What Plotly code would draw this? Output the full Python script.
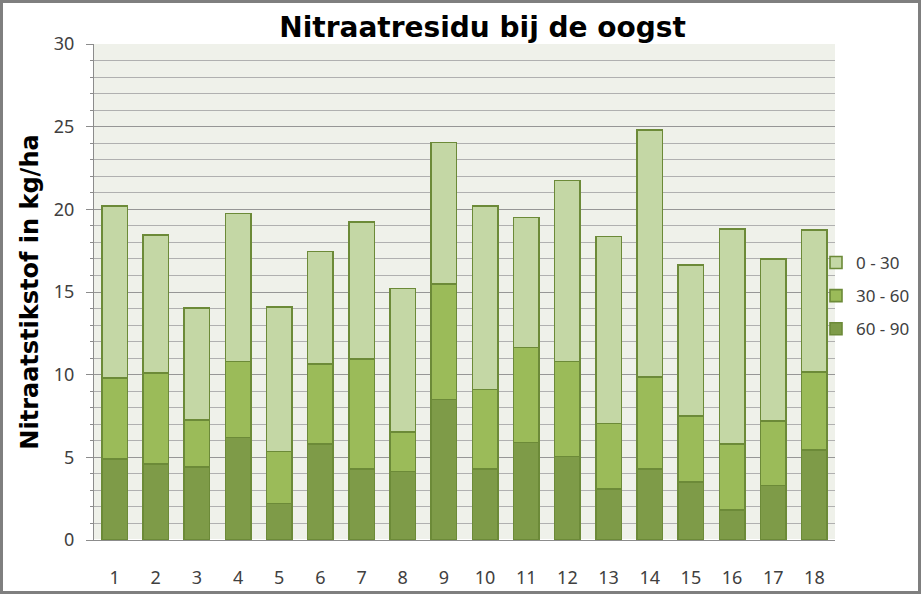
import plotly.graph_objects as go

categories = [str(i) for i in range(1, 19)]
series_names = ["60 - 90", "30 - 60", "0 - 30"]
v_60_90 = [4.9, 4.6, 4.4, 6.2, 2.2, 5.8, 4.3, 4.15, 8.5, 4.3, 5.9, 5.05, 3.1, 4.3, 3.5, 1.8, 3.3, 5.45]
v_30_60 = [4.9, 5.5, 2.85, 4.6, 3.15, 4.85, 6.65, 2.4, 7.0, 4.8, 5.75, 5.75, 3.95, 5.55, 4.0, 4.0, 3.9, 4.7]
v_0_30 = [10.4, 8.35, 6.8, 8.95, 8.75, 6.8, 8.3, 8.65, 8.55, 11.1, 7.85, 10.95, 11.3, 14.95, 9.15, 13.0, 9.8, 8.6]
y_tick_vals = [0, 5, 10, 15, 20, 25, 30]

colors = ["#7E9B48", "#9BBB59", "#C4D7A5"]
outline = "#6C8A38"

W, H = 921, 594
L, R, T, B = 94, 86, 44, 54

fig = go.Figure()
for rank, (name, vals, col) in enumerate(zip(series_names, [v_60_90, v_30_60, v_0_30], colors)):
    fig.add_trace(go.Bar(x=categories, y=vals, name=name, legendgroup=name, legendrank=1000 - rank,
                         marker=dict(color=col, line=dict(color=outline, width=1.6))))

fig.update_layout(
    width=W, height=H, autosize=False,
    margin=dict(l=L, r=R, t=T, b=B, autoexpand=False),
    barmode="stack", bargap=0.38,
    paper_bgcolor="white", plot_bgcolor="#EFF1EA",
    title=dict(text="<b>Nitraatresidu bij de oogst</b>", x=0.524, xanchor="center",
               y=1 - 27 / H, yanchor="middle",
               font=dict(family="DejaVu Sans", size=28, color="black")),
    legend=dict(xref="container", yref="container", x=816 / W, y=1 - 245 / H,
                xanchor="left", yanchor="top",
                traceorder="grouped", font=dict(family="Noto Sans", size=17, color="#404040"),
                itemwidth=30, tracegroupgap=8, bgcolor="rgba(0,0,0,0)"),
    font=dict(family="Noto Sans", color="#404040"),
)
fig.update_xaxes(showgrid=False, showline=True, linecolor="#8C8C8C", linewidth=1, automargin=False,
                 ticks="", ticklabelstandoff=21, tickfont=dict(size=18, color="#404040"))
fig.update_yaxes(range=[0, 30], tickvals=y_tick_vals, showline=True, linecolor="#8C8C8C", linewidth=1,
                 automargin=False,
                 gridcolor="#969696", gridwidth=1, ticks="outside", ticklen=7, tickcolor="#8C8C8C",
                 ticklabelstandoff=8, tickfont=dict(size=18, color="#404040"),
                 minor=dict(dtick=1, showgrid=True, gridcolor="#B0B0B0", gridwidth=1,
                            ticks="outside", ticklen=3, tickcolor="#8C8C8C"),
                 title=dict(text="<b>Nitraatstikstof in kg/ha</b>", standoff=8,
                            font=dict(family="DejaVu Sans", size=24, color="black")))

pw, ph = W - L - R, H - T - B
fig.add_shape(type="rect", xref="paper", yref="paper",
              x0=-(L - 1.5) / pw, x1=1 + (R - 1.5) / pw, y0=-(B - 1.5) / ph, y1=1 + (T - 1.5) / ph,
              line=dict(color="#7F7F7F", width=3), fillcolor="rgba(0,0,0,0)", layer="above")

fig.write_html("out.html", config={"responsive": False})
